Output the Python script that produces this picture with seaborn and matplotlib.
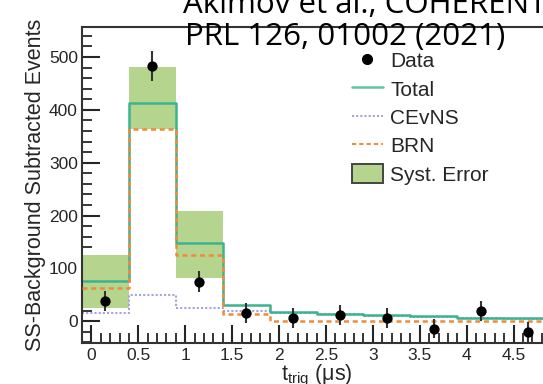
import numpy as np
import matplotlib
matplotlib.use("Agg")
import matplotlib.pyplot as plt
import seaborn as sns
from matplotlib.lines import Line2D
from matplotlib.patches import Patch
from matplotlib.ticker import MultipleLocator, FuncFormatter

# ---- data ----
bin_edges = [-0.1, 0.4, 0.9, 1.4, 1.9, 2.4, 2.9, 3.4, 3.9, 4.4, 4.9]
bin_centers = [0.15, 0.65, 1.15, 1.65, 2.15, 2.65, 3.15, 3.65, 4.15, 4.65]
data_counts = [38, 483, 75, 15, 6, 11, 7, -14, 19, -21]
data_errors = [19, 29, 20, 19, 19, 19, 19, 18, 19, 19]
total_pred = [77, 413, 148, 30, 17, 14, 11, 9, 7, 6]
cevns_pred = [15, 50, 26, 19, 16, 13, 10, 8, 6, 5]
brn_pred = [62, 363, 125, 14, 1, 1, 1, 1, 1, 1]
syst_low = [26, 363, 81, np.nan, np.nan, np.nan, np.nan, np.nan, np.nan, np.nan]
syst_high = [126, 482, 209, np.nan, np.nan, np.nan, np.nan, np.nan, np.nan, np.nan]

title_lines = ["Akimov et al., COHERENT", "PRL 126, 01002 (2021)"]
x_label = r"$\mathregular{t_{trig}}$ (μs)"
y_label = "SS-Background Subtracted Events"
legend_labels = ["Data", "Total", "CEvNS", "BRN", "Syst. Error"]

# ---- style ----
sns.set_style("ticks")
plt.rcParams["font.family"] = ["Liberation Sans", "DejaVu Sans"]
plt.rcParams["mathtext.fontset"] = "custom"
plt.rcParams["mathtext.rm"] = "Liberation Sans"
plt.rcParams["mathtext.it"] = "Liberation Sans:italic"

c_total = "#3cb38f"
c_total_leg = "#66c2a5"
c_cevns = "#a5a2dc"
c_brn = "#f08a3c"
c_band = "#b5d58f"
txt_col = "#262626"

fig = plt.figure(figsize=(5.43, 3.84), dpi=100)
ax = fig.add_axes([0.151, 0.107, 1.015 - 0.151, 0.930 - 0.107])

# systematic band
widths = np.diff(bin_edges)
lo = np.array(syst_low, dtype=float)
hi = np.array(syst_high, dtype=float)
ax.bar(bin_centers, hi - lo, bottom=lo, width=widths, color=c_band,
       edgecolor="none", zorder=1)

# model step histograms
sns.histplot(x=bin_centers, weights=cevns_pred, bins=bin_edges, element="step",
             fill=False, color=c_cevns, linewidth=1.5, linestyle=(0, (1, 1)), ax=ax, zorder=2)
sns.histplot(x=bin_centers, weights=brn_pred, bins=bin_edges, element="step",
             fill=False, color=c_brn, linewidth=1.8, linestyle=(0, (2, 1.5)), ax=ax, zorder=3)
sns.histplot(x=bin_centers, weights=total_pred, bins=bin_edges, element="step",
             fill=False, color=c_total, linewidth=1.8, ax=ax, zorder=2.5)

# data
ax.errorbar(bin_centers, data_counts, yerr=data_errors, fmt="none",
            ecolor="#333333", elinewidth=1.5, capsize=0, zorder=4)
sns.scatterplot(x=bin_centers, y=data_counts, color="black", s=55,
                edgecolor="black", linewidth=0, ax=ax, zorder=5)

ax.set_xlim(-0.1, 4.9)
ax.set_ylim(-41, 557)

ax.xaxis.set_major_locator(MultipleLocator(0.5))
ax.xaxis.set_minor_locator(MultipleLocator(0.1))
ax.yaxis.set_major_locator(MultipleLocator(100))
ax.yaxis.set_minor_locator(MultipleLocator(20))
ax.xaxis.set_major_formatter(FuncFormatter(lambda v, p: "%g" % v))
ax.tick_params(which="major", direction="in", length=13, width=1.5,
               labelsize=12.5, colors=txt_col, pad=4)
ax.tick_params(axis="y", which="major", pad=3)
ax.tick_params(which="minor", direction="in", length=7, width=1.3, colors=txt_col)
for s in ax.spines.values():
    s.set_color("#333333")
    s.set_linewidth(1.5)

ax.set_xlabel(x_label, fontsize=15.5, color=txt_col)
ax.xaxis.set_label_coords(0.5, -0.064, transform=ax.transAxes)
ax.xaxis.label.set_va("top")
ax.set_ylabel(y_label, fontsize=15.5, color=txt_col, labelpad=2)

handles = [
    Line2D([], [], marker="o", color="black", linestyle="none", markersize=7),
    Line2D([], [], color=c_total_leg, linewidth=1.8),
    Line2D([], [], color=c_cevns, linewidth=1.5, linestyle=(0, (1, 1))),
    Line2D([], [], color=c_brn, linewidth=1.5, linestyle=(0, (2, 1.5))),
    Patch(facecolor=c_band, edgecolor="#444444", linewidth=1.4),
]
ax.legend(handles, legend_labels, loc="upper left", bbox_to_anchor=(0.553, 0.957),
          frameon=False, fontsize=15, handlelength=1.5, handletextpad=0.35,
          handleheight=1.0, labelspacing=0.38, borderpad=0, labelcolor=txt_col)

fig.text(0.337, 0.966, title_lines[0], family="Open Sans", fontsize=22.5,
         color="black", va="baseline", ha="left", zorder=10)
fig.text(0.341, 0.883, title_lines[1], family="Open Sans", fontsize=22.5,
         color="black", va="baseline", ha="left", zorder=10)

fig.savefig("out.png", dpi=100)
